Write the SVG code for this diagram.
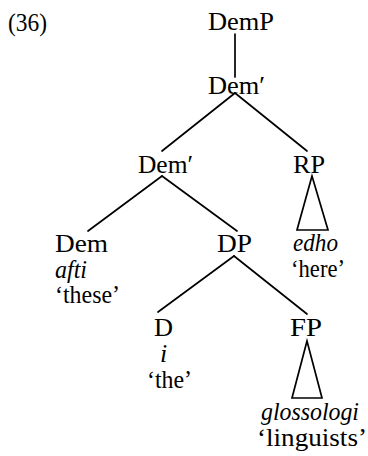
<svg xmlns="http://www.w3.org/2000/svg" width="368" height="456" viewBox="0 0 368 456">
  <style>
    text { font-family: "Liberation Serif", "DejaVu Serif", serif; font-size: 26px; fill: #000; }
    .it { font-style: italic; }
    .edge { stroke: #000; stroke-width: 1.7; fill: none; stroke-linecap: round; stroke-linejoin: miter; }
  </style>
  <rect width="368" height="456" fill="#fff"/>

  <!-- example number -->
  <g id="label">
    <text x="8" y="31" textLength="39" lengthAdjust="spacingAndGlyphs">(36)</text>
  </g>

  <!-- branches -->
  <g id="connectors">
    <line class="edge" x1="235" y1="34" x2="235" y2="77"/>
    <line class="edge" x1="235" y1="93" x2="162" y2="151"/>
    <line class="edge" x1="235" y1="93" x2="307" y2="151"/>
    <line class="edge" x1="162" y1="176" x2="88" y2="231"/>
    <line class="edge" x1="162" y1="176" x2="237" y2="231"/>
    <polygon class="edge" points="312,176 297,230 328,230"/>
    <line class="edge" x1="234" y1="256" x2="158" y2="312"/>
    <line class="edge" x1="234" y1="256" x2="307" y2="314"/>
    <polygon class="edge" points="307,341 292,398 322,398"/>
  </g>

  <g id="DemP">
    <text x="208" y="30" textLength="66" lengthAdjust="spacingAndGlyphs">DemP</text>
  </g>
  <g id="DemBar1">
    <text x="208" y="94" textLength="57" lengthAdjust="spacingAndGlyphs">Dem′</text>
  </g>
  <g id="DemBar2">
    <text x="138" y="173" textLength="55" lengthAdjust="spacingAndGlyphs">Dem′</text>
  </g>
  <g id="RP">
    <text x="293" y="173" textLength="32" lengthAdjust="spacingAndGlyphs">RP</text>
    <text class="it" x="293" y="251" textLength="45" lengthAdjust="spacingAndGlyphs">edho</text>
    <text x="291" y="277" textLength="54" lengthAdjust="spacingAndGlyphs">‘here’</text>
  </g>
  <g id="Dem">
    <text x="55" y="252" textLength="53" lengthAdjust="spacingAndGlyphs">Dem</text>
    <text class="it" x="55" y="278" textLength="32" lengthAdjust="spacingAndGlyphs">afti</text>
    <text x="55" y="303" textLength="65" lengthAdjust="spacingAndGlyphs">‘these’</text>
  </g>
  <g id="DP">
    <text x="217" y="252" textLength="35" lengthAdjust="spacingAndGlyphs">DP</text>
  </g>
  <g id="D">
    <text x="154" y="336" textLength="19" lengthAdjust="spacingAndGlyphs">D</text>
    <text class="it" x="160" y="362">i</text>
    <text x="147" y="388" textLength="45" lengthAdjust="spacingAndGlyphs">‘the’</text>
  </g>
  <g id="FP">
    <text x="290" y="336" textLength="32" lengthAdjust="spacingAndGlyphs">FP</text>
    <text class="it" x="261" y="420" textLength="98" lengthAdjust="spacingAndGlyphs">glossologi</text>
    <text x="257" y="446" textLength="110" lengthAdjust="spacingAndGlyphs">‘linguists’</text>
  </g>
</svg>
